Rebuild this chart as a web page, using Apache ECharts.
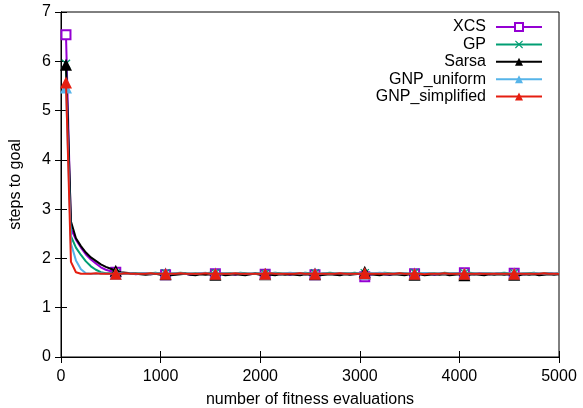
<!DOCTYPE html>
<html>
<head>
<meta charset="utf-8">
<script src="https://cdn.jsdelivr.net/npm/echarts@6/dist/echarts.min.js"></script>
<style>
html,body{margin:0;padding:0;background:#fff;}
#chart{width:583px;height:408px;}
</style>
</head>
<body>
<div id="chart"></div>
<script>
const evaluations = [
  50,100,150,200,250,300,350,400,450,500,
  550,600,650,700,750,800,850,900,950,1000,
  1050,1100,1150,1200,1250,1300,1350,1400,1450,1500,
  1550,1600,1650,1700,1750,1800,1850,1900,1950,2000,
  2050,2100,2150,2200,2250,2300,2350,2400,2450,2500,
  2550,2600,2650,2700,2750,2800,2850,2900,2950,3000,
  3050,3100,3150,3200,3250,3300,3350,3400,3450,3500,
  3550,3600,3650,3700,3750,3800,3850,3900,3950,4000,
  4050,4100,4150,4200,4250,4300,4350,4400,4450,4500,
  4550,4600,4650,4700,4750,4800,4850,4900,4950,5000
];
const xcs = [
  6.54,2.60,2.38,2.22,2.08,1.98,1.90,1.82,1.77,1.74,
  1.72,1.70,1.69,1.70,1.68,1.69,1.70,1.68,1.69,1.70,
  1.67,1.69,1.68,1.70,1.69,1.67,1.68,1.70,1.69,1.68,
  1.69,1.70,1.68,1.69,1.67,1.70,1.69,1.68,1.70,1.69,
  1.68,1.69,1.70,1.68,1.69,1.67,1.69,1.70,1.68,1.69,
  1.67,1.68,1.70,1.69,1.68,1.70,1.69,1.68,1.69,1.70,
  1.63,1.67,1.69,1.70,1.68,1.67,1.69,1.70,1.68,1.69,
  1.69,1.68,1.70,1.69,1.67,1.69,1.70,1.68,1.69,1.70,
  1.71,1.69,1.68,1.70,1.69,1.68,1.69,1.70,1.69,1.68,
  1.70,1.69,1.68,1.69,1.70,1.68,1.69,1.70,1.69,1.69
];
const gp = [
  5.95,2.45,2.22,2.07,1.94,1.84,1.77,1.72,1.70,1.70,
  1.70,1.69,1.70,1.69,1.70,1.70,1.69,1.70,1.71,1.69,
  1.70,1.69,1.70,1.71,1.70,1.69,1.70,1.69,1.70,1.71,
  1.70,1.69,1.70,1.70,1.69,1.71,1.70,1.69,1.70,1.70,
  1.69,1.70,1.71,1.70,1.69,1.70,1.70,1.69,1.71,1.70,
  1.70,1.69,1.70,1.71,1.70,1.69,1.70,1.70,1.71,1.69,
  1.70,1.70,1.69,1.70,1.71,1.70,1.69,1.70,1.70,1.69,
  1.71,1.70,1.69,1.70,1.70,1.69,1.71,1.70,1.70,1.69,
  1.70,1.71,1.70,1.69,1.70,1.70,1.69,1.70,1.71,1.70,
  1.70,1.69,1.70,1.70,1.71,1.69,1.70,1.70,1.69,1.70
];
const sarsa = [
  5.93,2.75,2.41,2.25,2.12,2.02,1.95,1.88,1.83,1.79,
  1.75,1.72,1.71,1.70,1.69,1.68,1.67,1.68,1.69,1.67,
  1.68,1.66,1.67,1.68,1.69,1.67,1.66,1.68,1.67,1.68,
  1.67,1.68,1.66,1.67,1.68,1.67,1.66,1.68,1.69,1.67,
  1.68,1.67,1.66,1.68,1.67,1.68,1.67,1.66,1.68,1.67,
  1.68,1.66,1.67,1.68,1.67,1.66,1.68,1.67,1.68,1.69,
  1.73,1.68,1.67,1.66,1.68,1.67,1.68,1.67,1.66,1.68,
  1.67,1.68,1.66,1.67,1.68,1.67,1.68,1.66,1.67,1.68,
  1.66,1.67,1.68,1.67,1.66,1.68,1.67,1.68,1.67,1.68,
  1.67,1.66,1.68,1.67,1.68,1.66,1.67,1.68,1.67,1.68
];
const gnpUniform = [
  5.47,2.30,1.96,1.78,1.70,1.69,1.69,1.70,1.69,1.69,
  1.69,1.70,1.69,1.70,1.69,1.70,1.70,1.69,1.70,1.69,
  1.70,1.69,1.70,1.70,1.69,1.70,1.69,1.70,1.71,1.69,
  1.70,1.69,1.70,1.69,1.70,1.70,1.69,1.70,1.69,1.70,
  1.69,1.70,1.70,1.69,1.70,1.71,1.70,1.69,1.70,1.69,
  1.70,1.69,1.70,1.69,1.70,1.70,1.69,1.70,1.69,1.70,
  1.69,1.70,1.70,1.71,1.70,1.69,1.70,1.69,1.70,1.69,
  1.70,1.69,1.70,1.70,1.69,1.70,1.69,1.70,1.70,1.69,
  1.70,1.69,1.70,1.69,1.70,1.70,1.69,1.70,1.69,1.70,
  1.70,1.69,1.70,1.69,1.70,1.70,1.69,1.70,1.69,1.70
];
const gnpSimplified = [
  5.57,1.93,1.72,1.69,1.69,1.69,1.70,1.69,1.69,1.69,
  1.69,1.69,1.70,1.69,1.69,1.69,1.69,1.70,1.69,1.69,
  1.69,1.69,1.69,1.70,1.69,1.69,1.69,1.69,1.70,1.69,
  1.69,1.69,1.69,1.69,1.70,1.69,1.69,1.69,1.69,1.69,
  1.69,1.70,1.69,1.69,1.69,1.69,1.69,1.70,1.69,1.69,
  1.69,1.69,1.69,1.69,1.69,1.70,1.69,1.69,1.69,1.69,
  1.70,1.69,1.69,1.69,1.69,1.69,1.69,1.70,1.69,1.69,
  1.69,1.69,1.68,1.69,1.69,1.69,1.70,1.69,1.69,1.69,
  1.69,1.69,1.69,1.69,1.69,1.69,1.69,1.69,1.69,1.69,
  1.69,1.69,1.69,1.69,1.69,1.69,1.70,1.69,1.69,1.69
];
const seriesNames = ['XCS','GP','Sarsa','GNP_uniform','GNP_simplified'];
const xTicks = [0,1000,2000,3000,4000,5000];
const yTicks = [0,1,2,3,4,5,6,7];

const FONT = 'Liberation Sans, Arial, sans-serif';
const FS = 16;
const crossPath = 'path://M0,1L1,0L5,4L9,0L10,1L6,5L10,9L9,10L5,6L1,10L0,9L4,5Z';
const styles = [
  {color:'#9400d3', symbol:'emptyRect', size:9},
  {color:'#009e73', symbol:crossPath, size:9},
  {color:'#000000', symbol:'triangle', size:12},
  {color:'#56b4e9', symbol:'triangle', size:12},
  {color:'#e51e10', symbol:'triangle', size:12}
];
const values = [xcs, gp, sarsa, gnpUniform, gnpSimplified];

function buildData(ys){
  return evaluations.map((x,i)=> i % 10 === 0 ? [x, ys[i]] : {value:[x, ys[i]], symbol:'none'});
}

const series = seriesNames.map((name, k) => ({
  name: name,
  type: 'line',
  data: buildData(values[k]),
  symbol: styles[k].symbol,
  symbolSize: styles[k].size,
  showAllSymbol: true,
  showSymbol: true,
  lineStyle: {color: styles[k].color, width: 2},
  itemStyle: {color: styles[k].color, borderColor: styles[k].color, borderWidth: styles[k].symbol === 'emptyRect' ? 2 : 0},
  emphasis: {disabled: true},
  animation: false,
  z: 2 + k
}));

const chart = echarts.init(document.getElementById('chart'), null, {renderer:'canvas'});
chart.setOption({
  animation: false,
  backgroundColor: '#ffffff',
  textStyle: {fontFamily: FONT},
  grid: {left: 61, right: 24, top: 12, bottom: 51, show: true, borderColor: '#000', borderWidth: 1,
    containLabel: false, outerBoundsMode: 'none'},
  legend: {
    data: seriesNames,
    orient: 'vertical',
    align: 'right',
    right: 40,
    top: 19,
    itemWidth: 46,
    itemHeight: 10,
    itemGap: 1.4,
    padding: 0,
    selectedMode: false,
    textStyle: {fontFamily: FONT, fontSize: FS, lineHeight: 14, color: '#000', padding: [0, 5, 0, 0]}
  },
  xAxis: [{
    type: 'value', min: 0, max: 5000, interval: 1000,
    name: 'number of fitness evaluations', nameLocation: 'middle', nameGap: 35,
    nameTextStyle: {fontFamily: FONT, fontSize: FS, color: '#000'},
    axisLine: {show: true, lineStyle: {color: '#000', width: 1}},
    axisTick: {show: true, inside: true, length: 6, lineStyle: {color: '#000'}},
    axisLabel: {fontFamily: FONT, fontSize: FS, color: '#000', margin: 12,
      formatter: v => xTicks.includes(v) ? String(v) : ''},
    splitLine: {show: false}
  },{
    type: 'value', min: 0, max: 5000, interval: 1000, position: 'top',
    axisLine: {show: true, lineStyle: {color: '#000'}},
    axisTick: {show: true, inside: true, length: 6, lineStyle: {color: '#000'}},
    axisLabel: {show: false}, splitLine: {show: false}
  }],
  yAxis: [{
    type: 'value', min: 0, max: 7, interval: 1,
    name: 'steps to goal', nameLocation: 'middle', nameGap: 37, nameRotate: 90,
    nameTextStyle: {fontFamily: FONT, fontSize: FS, color: '#000'},
    axisLine: {show: true, lineStyle: {color: '#000', width: 1}},
    axisTick: {show: true, inside: true, length: 6, lineStyle: {color: '#000'}},
    axisLabel: {fontFamily: FONT, fontSize: FS, color: '#000', margin: 10,
      formatter: v => yTicks.includes(v) ? String(v) : ''},
    splitLine: {show: false}
  },{
    type: 'value', min: 0, max: 7, interval: 1, position: 'right',
    axisLine: {show: true, lineStyle: {color: '#000'}},
    axisTick: {show: true, inside: true, length: 6, lineStyle: {color: '#000'}},
    axisLabel: {show: false}, splitLine: {show: false}
  }],
  series: series
});
</script>
</body>
</html>
